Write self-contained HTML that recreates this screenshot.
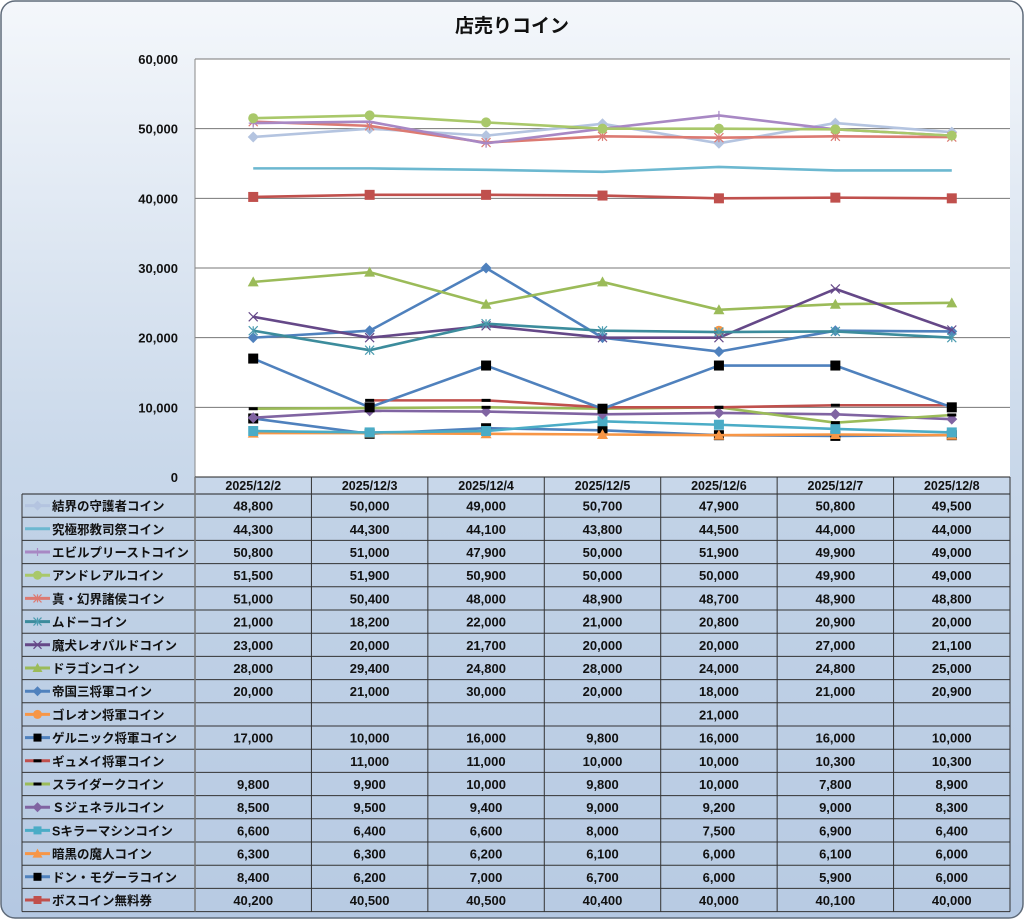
<!DOCTYPE html>
<html><head><meta charset="utf-8">
<style>
html,body{margin:0;padding:0;background:#fff;}
body{width:1024px;height:919px;overflow:hidden;font-family:"Liberation Sans","Noto Sans CJK JP",sans-serif;}
svg text{font-family:"Liberation Sans","Noto Sans CJK JP",sans-serif;}
</style></head>
<body>
<svg id="chart" width="1024" height="919" viewBox="0 0 1024 919">
<defs>
<linearGradient id="bg" x1="0" y1="0" x2="0" y2="1">
<stop offset="0" stop-color="#f4f7fb"/><stop offset="0.5" stop-color="#c9d8ea"/><stop offset="1" stop-color="#b4c8e2"/>
</linearGradient>
</defs>
<rect x="1" y="1" width="1022" height="917" rx="14" fill="url(#bg)" stroke="#5f6b7a" stroke-width="1.5"/>
<text x="512" y="32" text-anchor="middle" font-size="19" font-weight="bold" fill="#111">店売りコイン</text>
<rect x="195" y="59" width="815" height="418" fill="#fff"/>
<g id="grid"></g>
<g id="table"></g>
<g id="series"></g>
</svg>
<script>
const categories=["2025/12/2","2025/12/3","2025/12/4","2025/12/5","2025/12/6","2025/12/7","2025/12/8"];
const seriesNames=["結界の守護者コイン","究極邪教司祭コイン","エビルプリーストコイン","アンドレアルコイン","真・幻界諸侯コイン","ムドーコイン","魔犬レオパルドコイン","ドラゴンコイン","帝国三将軍コイン","ゴレオン将軍コイン","ゲルニック将軍コイン","ギュメイ将軍コイン","スライダークコイン","Ｓジェネラルコイン","Sキラーマシンコイン","暗黒の魔人コイン","ドン・モグーラコイン","ボスコイン無料券"];
const v1=[48800,50000,49000,50700,47900,50800,49500];
const v2=[44300,44300,44100,43800,44500,44000,44000];
const v3=[50800,51000,47900,50000,51900,49900,49000];
const v4=[51500,51900,50900,50000,50000,49900,49000];
const v5=[51000,50400,48000,48900,48700,48900,48800];
const v6=[21000,18200,22000,21000,20800,20900,20000];
const v7=[23000,20000,21700,20000,20000,27000,21100];
const v8=[28000,29400,24800,28000,24000,24800,25000];
const v9=[20000,21000,30000,20000,18000,21000,20900];
const v10=[null,null,null,null,21000,null,null];
const v11=[17000,10000,16000,9800,16000,16000,10000];
const v12=[null,11000,11000,10000,10000,10300,10300];
const v13=[9800,9900,10000,9800,10000,7800,8900];
const v14=[8500,9500,9400,9000,9200,9000,8300];
const v15=[6600,6400,6600,8000,7500,6900,6400];
const v16=[6300,6300,6200,6100,6000,6100,6000];
const v17=[8400,6200,7000,6700,6000,5900,6000];
const v18=[40200,40500,40500,40400,40000,40100,40000];
const yTicks=[0,10000,20000,30000,40000,50000,60000];
const allValues=[v1,v2,v3,v4,v5,v6,v7,v8,v9,v10,v11,v12,v13,v14,v15,v16,v17,v18];
const styles=[
 ["#b4c4e0","diamond","#b4c4e0"],["#6cb8d0","none","#6cb8d0"],["#a888c4","plus","#a888c4"],
 ["#a9c86a","circle","#a9c86a"],["#dc7a72","star","#dc7a72"],["#3c8c9c","star","#4c9cb0"],
 ["#654888","x","#654888"],["#9bbb59","triangle","#9bbb59"],["#4f81bd","diamond","#4f81bd"],
 ["#f79646","circle","#f79646"],["#4f81bd","square","#000"],["#c0504d","dash","#000"],
 ["#9bbb59","dash","#000"],["#8064a2","diamond","#8064a2"],["#4bacc6","square","#4bacc6"],
 ["#f79646","triangle","#f79646"],["#4f81bd","square","#000"],["#c0504d","square","#c0504d"]];
const NS="http://www.w3.org/2000/svg";
const PL=195,PR=1010,PT=59,PB=477,YMAX=60000;
const colW=(PR-PL)/categories.length;
function xs(i){return PL+colW*(i+0.5);}
function ys(v){return PB-(v/YMAX)*(PB-PT);}
function mk(tag,attrs,parent){const e=document.createElementNS(NS,tag);for(const k in attrs)e.setAttribute(k,attrs[k]);parent.appendChild(e);return e;}
const grid=document.getElementById('grid');
yTicks.forEach(t=>{
 if(t>0){const l=mk('line',{x1:PL,x2:PR,y1:ys(t),y2:ys(t),stroke:'#777','stroke-width':1},grid);
 
 }
 const tx=mk('text',{x:178,y:ys(t)+5,'text-anchor':'end','font-size':13,'font-weight':'bold',fill:'#111'},grid);
 tx.textContent=t===0?'0':t.toLocaleString('en-US');
 
 
});
const ax=mk('line',{x1:PL,x2:PL,y1:PT,y2:PB,stroke:'#888','stroke-width':1},grid);


// table
const tb=document.getElementById('table');
const TT=477,HH=17,RH=23.2,TL=22;
const TB=TT+HH+RH*seriesNames.length;
mk('rect',{x:TL,y:TT+HH,width:PR-TL,height:TB-TT-HH,fill:'#bccde3',opacity:0.5},tb);
mk('line',{x1:PL,x2:PR,y1:TT,y2:TT,stroke:'#222'},tb);
mk('line',{x1:TL,x2:PR,y1:TT+HH,y2:TT+HH,stroke:'#222'},tb);
for(let r=1;r<=seriesNames.length;r++){mk('line',{x1:TL,x2:PR,y1:TT+HH+RH*r,y2:TT+HH+RH*r,stroke:'#333'},tb);}
mk('line',{x1:TL,x2:TL,y1:TT+HH,y2:TB,stroke:'#333'},tb);
for(let c=0;c<=categories.length;c++){mk('line',{x1:PL+colW*c,x2:PL+colW*c,y1:TT,y2:TB,stroke:c===0?'#777':'#333','stroke-width':c===0?1.5:1},tb);}
categories.forEach((c,i)=>{const t=mk('text',{x:xs(i),y:TT+13,'text-anchor':'middle','font-size':12.5,'font-weight':'bold',fill:'#111'},tb);t.textContent=c;
 
 });
function marker(g,type,x,y,col,s){
 s=s||4;
 if(type==='diamond')mk('polygon',{points:`${x},${y-s-1} ${x+s+1},${y} ${x},${y+s+1} ${x-s-1},${y}`,fill:col},g);
 else if(type==='circle')mk('circle',{cx:x,cy:y,r:s+0.5,fill:col},g);
 else if(type==='square')mk('rect',{x:x-s,y:y-s,width:2*s,height:2*s,fill:col},g);
 else if(type==='triangle')mk('polygon',{points:`${x},${y-s-1} ${x+s+1},${y+s} ${x-s-1},${y+s}`,fill:col},g);
 else if(type==='dash')mk('rect',{x:x-s,y:y-1.5,width:2*s,height:3,fill:col},g);
 else if(type==='plus'){mk('path',{d:`M${x-s} ${y}H${x+s}M${x} ${y-s}V${y+s}`,stroke:col,'stroke-width':1.2},g);}
 else if(type==='x'){mk('path',{d:`M${x-s} ${y-s}L${x+s} ${y+s}M${x-s} ${y+s}L${x+s} ${y-s}`,stroke:col,'stroke-width':1.2},g);}
 else if(type==='star'){mk('path',{d:`M${x-s} ${y-s}L${x+s} ${y+s}M${x-s} ${y+s}L${x+s} ${y-s}M${x} ${y-s}V${y+s}`,stroke:col,'stroke-width':1.2},g);}
}
seriesNames.forEach((n,r)=>{
 const cy=TT+HH+RH*r+RH/2;
 const [lc,mt,mc]=styles[r];
 const lg=mk('g',{},tb);
 
 
 mk('line',{x1:25,x2:50,y1:cy,y2:cy,stroke:lc,'stroke-width':3},lg);
 if(mt!=='none')marker(lg,mt,37.5,cy,mc,4);
 const t=mk('text',{x:52,y:cy+5,'font-size':12.5,'font-weight':'bold',fill:'#111'},lg);t.textContent=n;
 allValues[r].forEach((v,i)=>{if(v===null)return;
  const c=mk('text',{x:xs(i),y:cy+5,'text-anchor':'middle','font-size':13,'font-weight':'bold',fill:'#111'},tb);
  c.textContent=v.toLocaleString('en-US');
  
  });
});
// series
const sg=document.getElementById('series');
const order=[17,16,15,14,13,12,11,10,9,8,7,6,5,1,0,4,2,3];
order.forEach(r=>{
 const [lc,mt,mc]=styles[r];const vals=allValues[r];
 const g=mk('g',{},sg);
 
 
 let d='',pen=false;
 vals.forEach((v,i)=>{if(v===null){pen=false;return;}d+=(pen?'L':'M')+xs(i)+' '+ys(v);pen=true;});
 mk('path',{d:d,fill:'none',stroke:lc,'stroke-width':2.6,'stroke-linejoin':'round'},g);
 if(mt!=='none')vals.forEach((v,i)=>{if(v===null)return;marker(g,mt,xs(i),ys(v),mc,mt==='square'?5:4.5);});
});
</script>
</body></html>
